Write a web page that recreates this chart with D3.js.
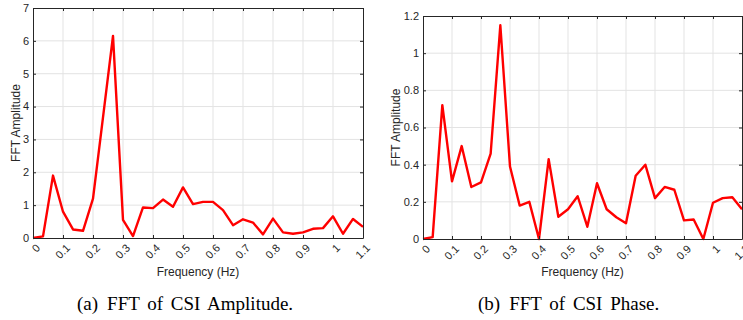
<!DOCTYPE html>
<html>
<head>
<meta charset="utf-8">
<script src="https://cdn.jsdelivr.net/npm/d3@7"></script>
<style>
  body { margin: 0; background: #fff; }
  svg { display: block; font-family: "Liberation Sans", Arial, sans-serif; }
  .grid line { stroke: #e3e3e3; stroke-width: 1; }
  .tick-label { font-size: 11px; fill: #262626; }
  .axis-title { font-size: 12px; fill: #262626; }
  .caption { font-family: "Liberation Serif", "DejaVu Serif", serif; font-size: 19px; word-spacing: 3px; fill: #000; }
</style>
</head>
<body>
<div id="chart"></div>
<script>
// frequency bins: k / 30 Hz, k = 0..33
const freqs = d3.range(34).map(k => k / 30);

const amplitudeFFT = [
  0, 0.05, 1.9, 0.8, 0.26, 0.22, 1.2, 3.67, 6.15, 0.55,
  0.06, 0.93, 0.91, 1.17, 0.95, 1.54, 1.03, 1.1, 1.1, 0.85,
  0.39, 0.57, 0.47, 0.11, 0.59, 0.17, 0.13, 0.17, 0.28, 0.3,
  0.66, 0.13, 0.58, 0.34
];

const phaseFFT = [
  0, 0.01, 0.72, 0.31, 0.5, 0.28, 0.305, 0.46, 1.15, 0.39,
  0.18, 0.2, 0.0, 0.43, 0.12, 0.16, 0.23, 0.066, 0.3, 0.16,
  0.117, 0.085, 0.34, 0.4, 0.22, 0.28, 0.265, 0.1, 0.105, 0.0,
  0.195, 0.22, 0.225, 0.16
];

const xTicks = d3.range(12).map(i => i / 10);
const xTickLabels = ['0', '0.1', '0.2', '0.3', '0.4', '0.5', '0.6', '0.7', '0.8', '0.9', '1', '1.1'];
const ampTicks = [0, 1, 2, 3, 4, 5, 6, 7];
const phaseTicks = [0, 0.2, 0.4, 0.6, 0.8, 1, 1.2];

const xLabel = 'Frequency (Hz)';
const yLabel = 'FFT Amplitude';
const captions = [['(a)', 'FFT of CSI Amplitude.'], ['(b)', 'FFT of CSI Phase.']];

const W = 743, H = 320;
const axisColor = '#262626';
const tickLen = 3;

const svg = d3.select('#chart')
  .append('svg')
  .attr('width', W)
  .attr('height', H);

const panels = [
  { box: { left: 33, right: 363, top: 8, bottom: 238 }, yMax: 7, yTicks: ampTicks, data: amplitudeFFT, yLabelX: 16, capX: 77 },
  { box: { left: 423, right: 742, top: 16, bottom: 239 }, yMax: 1.2, yTicks: phaseTicks, data: phaseFFT, yLabelX: 396, capX: 478 }
];

panels.forEach((p, i) => drawPanel(p, captions[i]));

function drawPanel(p, caption) {
  const b = p.box;
  const x = d3.scaleLinear().domain([0, 1.1]).range([b.left, b.right]);
  const y = d3.scaleLinear().domain([0, p.yMax]).range([b.bottom, b.top]);
  const g = svg.append('g');

  // grid lines
  const grid = g.append('g').attr('class', 'grid');
  grid.selectAll('.gx')
    .data(xTicks.slice(1, -1))
    .join('line')
    .attr('x1', d => x(d)).attr('x2', d => x(d))
    .attr('y1', b.top).attr('y2', b.bottom);
  grid.selectAll('.gy')
    .data(p.yTicks.slice(1, -1))
    .join('line')
    .attr('x1', b.left).attr('x2', b.right)
    .attr('y1', d => y(d)).attr('y2', d => y(d));

  // data line
  const line = d3.line()
    .x((d, k) => x(freqs[k]))
    .y(d => y(d));

  g.append('path')
    .datum(p.data)
    .attr('fill', 'none')
    .attr('stroke', '#ff0000')
    .attr('stroke-width', 2.4)
    .attr('stroke-linejoin', 'round')
    .attr('d', line);

  // axes: bottom / left with labels, top / right as box with inward ticks
  const xAxis = d3.axisBottom(x).tickValues(xTicks).tickSizeInner(-tickLen).tickSizeOuter(0).tickFormat('');
  const xTop = d3.axisTop(x).tickValues(xTicks).tickSizeInner(-tickLen).tickSizeOuter(0).tickFormat('');
  const yAxis = d3.axisLeft(y).tickValues(p.yTicks).tickSizeInner(-tickLen).tickSizeOuter(0).tickFormat('');
  const yRight = d3.axisRight(y).tickValues(p.yTicks).tickSizeInner(-tickLen).tickSizeOuter(0).tickFormat('');

  [
    [xAxis, 'translate(0,' + b.bottom + ')'],
    [xTop, 'translate(0,' + b.top + ')'],
    [yAxis, 'translate(' + b.left + ',0)'],
    [yRight, 'translate(' + b.right + ',0)']
  ].forEach(([ax, tr]) => {
    const a = g.append('g').attr('transform', tr).call(ax);
    a.selectAll('path, line').attr('stroke', axisColor).attr('stroke-width', 1);
  });

  // x tick labels, rotated
  g.append('g').selectAll('text')
    .data(xTicks)
    .join('text')
    .attr('class', 'tick-label')
    .attr('text-anchor', 'end')
    .attr('transform', (d) => 'translate(' + (x(d) + 5) + ',' + (b.bottom + 8) + ') rotate(-45)')
    .attr('dy', '0.35em')
    .text((d, k) => xTickLabels[k]);

  // y tick labels
  g.append('g').selectAll('text')
    .data(p.yTicks)
    .join('text')
    .attr('class', 'tick-label')
    .attr('text-anchor', 'end')
    .attr('x', b.left - 4)
    .attr('y', d => y(d))
    .attr('dy', '0.35em')
    .text(d => String(d));

  // axis titles
  g.append('text')
    .attr('class', 'axis-title')
    .attr('text-anchor', 'middle')
    .attr('x', (b.left + b.right) / 2)
    .attr('y', 276)
    .text(xLabel);

  g.append('text')
    .attr('class', 'axis-title')
    .attr('text-anchor', 'middle')
    .attr('transform', 'translate(' + (p.yLabelX + 4) + ',' + ((b.top + b.bottom) / 2) + ') rotate(-90)')
    .text(yLabel);

  // caption
  const cap = g.append('text')
    .attr('class', 'caption')
    .attr('x', p.capX)
    .attr('y', 310);
  cap.append('tspan').text(caption[0]);
  cap.append('tspan').attr('dx', 9).text(caption[1]);
}
</script>
</body>
</html>
